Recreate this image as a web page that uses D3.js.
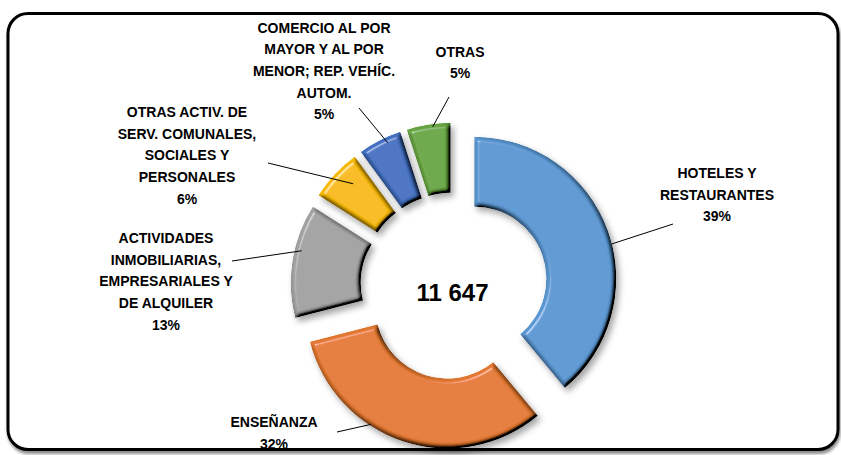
<!DOCTYPE html>
<html>
<head>
<meta charset="utf-8">
<script src="https://cdn.jsdelivr.net/npm/d3@7"></script>
<style>
body { margin: 0; background: #fff; }
svg { display: block; font-family: "Liberation Sans", Arial, sans-serif; }
</style>
</head>
<body>
<div id="chart"></div>
<script>
// data
var categories = [
  ["HOTELES Y", "RESTAURANTES"],
  ["ENSEÑANZA"],
  ["ACTIVIDADES", "INMOBILIARIAS,", "EMPRESARIALES Y", "DE ALQUILER"],
  ["OTRAS ACTIV. DE", "SERV. COMUNALES,", "SOCIALES Y", "PERSONALES"],
  ["COMERCIO AL POR", "MAYOR Y AL POR", "MENOR; REP. VEHÍC.", "AUTOM."],
  ["OTRAS"]
];
var values = [4542, 3727, 1514, 699, 582, 583];
var totalLabel = "11 647";
var colors = ["#5A96D0", "#E27830", "#A0A0A0", "#F6B905", "#4270C0", "#68A542"];

// label placement (first baseline, leader start, where the leader meets the slice)
var labelLayout = [
  {x: 717, y: 178, lx: 673, ly: 224, at: 0.54, rr: 1.0},
  {x: 274, y: 427, lx: 337, ly: 432, at: 0.63, rr: 0.99},
  {x: 166, y: 243, lx: 232, ly: 261, at: 0.60, rr: 0.95},
  {x: 187, y: 117, lx: 268, ly: 163, at: 0.62, rr: 0.86},
  {x: 324, y: 32.5, lx: 359, ly: 108, at: 0.64, rr: 0.96},
  {x: 460, y: 56.5, lx: 449, ly: 97, at: 0.59, rr: 0.98}
];

var width = 841, height = 455;
var cx = 454, cy = 286;
var outerR = 142, innerR = 72, explode = 21.5;
var lineH = 21.7;

var svg = d3.select("#chart").append("svg")
    .attr("width", width)
    .attr("height", height);

var defs = svg.append("defs");

// frame shadow
var fs = defs.append("filter").attr("id", "frameShadow")
    .attr("x", "-5%").attr("y", "-5%").attr("width", "110%").attr("height", "115%");
fs.append("feGaussianBlur").attr("in", "SourceAlpha").attr("stdDeviation", 1.5).attr("result", "b");
fs.append("feOffset").attr("in", "b").attr("dx", 1).attr("dy", 3).attr("result", "o");
fs.append("feFlood").attr("flood-color", "#000").attr("flood-opacity", 0.45);
fs.append("feComposite").attr("in2", "o").attr("operator", "in").attr("result", "sh");
var fm = fs.append("feMerge");
fm.append("feMergeNode").attr("in", "sh");
fm.append("feMergeNode").attr("in", "SourceGraphic");

// bevel + drop shadow for slices
var f = defs.append("filter").attr("id", "bevel")
    .attr("x", "-20%").attr("y", "-20%").attr("width", "150%").attr("height", "150%");
f.append("feGaussianBlur").attr("in", "SourceAlpha").attr("stdDeviation", 2).attr("result", "blur");
var dl = f.append("feDiffuseLighting").attr("in", "blur")
    .attr("surfaceScale", 7).attr("diffuseConstant", 1.22)
    .attr("lighting-color", "#fff").attr("result", "diff");
dl.append("feDistantLight").attr("azimuth", 225).attr("elevation", 55);
f.append("feComposite").attr("in", "SourceGraphic").attr("in2", "diff")
    .attr("operator", "arithmetic").attr("k1", 1).attr("result", "lit");
var sl = f.append("feSpecularLighting").attr("in", "blur")
    .attr("surfaceScale", 7).attr("specularConstant", 0.6).attr("specularExponent", 30)
    .attr("lighting-color", "#fff").attr("result", "spec");
sl.append("feDistantLight").attr("azimuth", 225).attr("elevation", 40);
f.append("feComposite").attr("in", "spec").attr("in2", "SourceAlpha")
    .attr("operator", "in").attr("result", "specIn");
f.append("feComposite").attr("in", "lit").attr("in2", "specIn")
    .attr("operator", "arithmetic").attr("k2", 1).attr("k3", 0.7).attr("result", "lit2");
f.append("feComposite").attr("in", "lit2").attr("in2", "SourceAlpha")
    .attr("operator", "in").attr("result", "shape");
f.append("feGaussianBlur").attr("in", "SourceAlpha").attr("stdDeviation", 3).attr("result", "sb");
f.append("feOffset").attr("in", "sb").attr("dx", 3).attr("dy", 4).attr("result", "so");
f.append("feFlood").attr("flood-color", "#000").attr("flood-opacity", 0.35);
f.append("feComposite").attr("in2", "so").attr("operator", "in").attr("result", "shadow");
var m = f.append("feMerge");
m.append("feMergeNode").attr("in", "shadow");
m.append("feMergeNode").attr("in", "shape");

// chart frame
svg.append("rect")
    .attr("x", 8).attr("y", 13.5)
    .attr("width", 830).attr("height", 436)
    .attr("rx", 20).attr("ry", 20)
    .attr("fill", "#fff")
    .attr("stroke", "#000")
    .attr("stroke-width", 3)
    .attr("filter", "url(#frameShadow)");

var pie = d3.pie().sort(null).value(function(d) { return d; });
var arcs = pie(values);
var total = d3.sum(values);

var arc = d3.arc().innerRadius(innerR).outerRadius(outerR);

function shift(d) {
  var a = (d.startAngle + d.endAngle) / 2;
  return [explode * Math.sin(a), -explode * Math.cos(a)];
}

var g = svg.append("g").attr("transform", "translate(" + cx + "," + cy + ")");

g.selectAll(".slice")
    .data(arcs)
  .enter().append("path")
    .attr("class", "slice")
    .attr("d", arc)
    .attr("transform", function(d) { var s = shift(d); return "translate(" + s[0] + "," + s[1] + ")"; })
    .attr("fill", function(d, i) { return colors[i]; })
    .attr("filter", "url(#bevel)");

// leader lines
g.selectAll(".leader")
    .data(arcs)
  .enter().append("line")
    .attr("class", "leader")
    .attr("x1", function(d, i) { return labelLayout[i].lx - cx; })
    .attr("y1", function(d, i) { return labelLayout[i].ly - cy; })
    .attr("x2", function(d, i) {
      var L = labelLayout[i], s = shift(d);
      var a = d.startAngle + L.at * (d.endAngle - d.startAngle);
      return s[0] + L.rr * outerR * Math.sin(a);
    })
    .attr("y2", function(d, i) {
      var L = labelLayout[i], s = shift(d);
      var a = d.startAngle + L.at * (d.endAngle - d.startAngle);
      return s[1] - L.rr * outerR * Math.cos(a);
    })
    .attr("stroke", "#000")
    .attr("stroke-width", 1);

// labels
var labels = svg.selectAll(".label")
    .data(arcs)
  .enter().append("text")
    .attr("class", "label")
    .attr("text-anchor", "middle")
    .style("font-size", "14px")
    .style("font-weight", "bold")
    .attr("fill", "#000");

labels.each(function(d, i) {
  var t = d3.select(this);
  var L = labelLayout[i];
  var lines = categories[i].concat([Math.round(d.value / total * 100) + "%"]);
  lines.forEach(function(s, k) {
    t.append("tspan")
      .attr("x", L.x)
      .attr("y", L.y + k * lineH)
      .text(s);
  });
});

// total in the hole
g.append("text")
    .attr("x", -1.5)
    .attr("y", 15)
    .attr("text-anchor", "middle")
    .style("font-size", "24px")
    .style("font-weight", "bold")
    .attr("fill", "#000")
    .text(totalLabel);
</script>
</body>
</html>
